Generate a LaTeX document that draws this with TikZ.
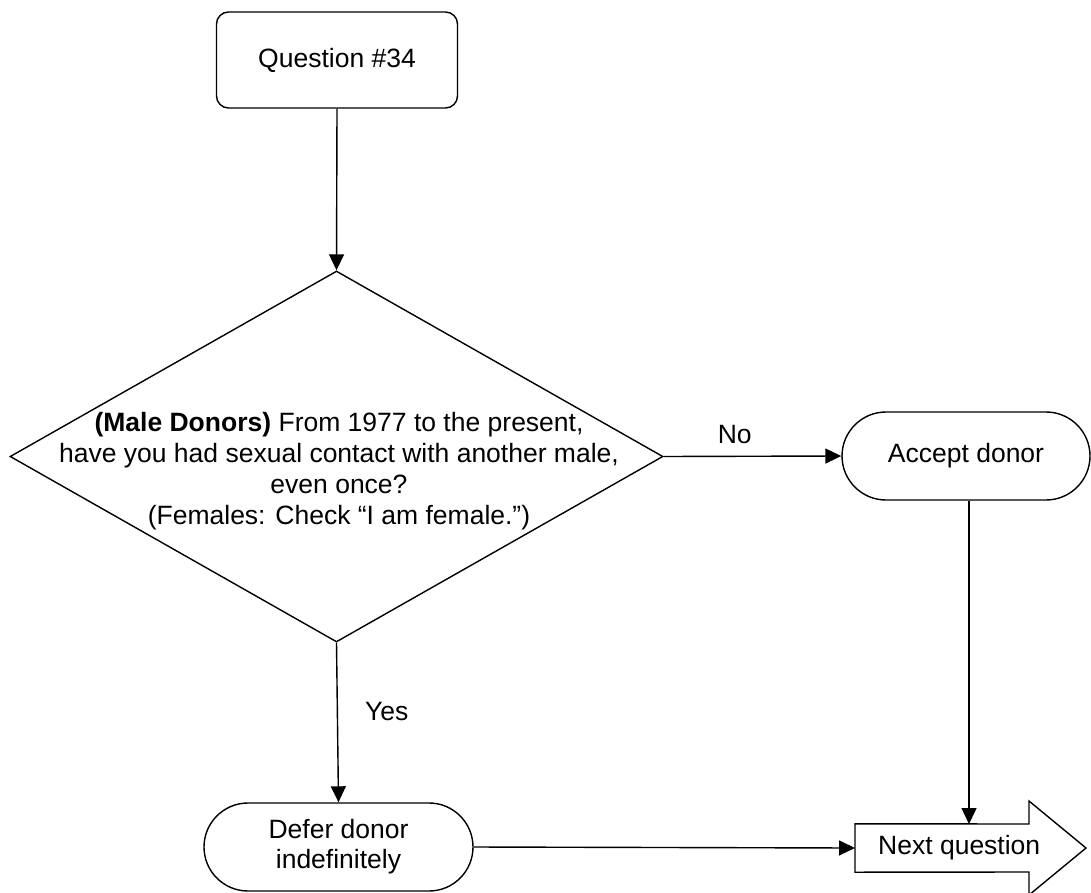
\documentclass[tikz,border=0pt]{standalone}
\usepackage{fontspec}
\setmainfont{Liberation Sans}
\usetikzlibrary{arrows.meta,shapes.geometric}
\begin{document}
\begin{tikzpicture}[x=1pt,y=-1pt,
  every node/.style={font=\fontsize{26.5}{31}\selectfont},
  ln/.style={line width=1.4pt},
  conn/.style={ln,-{Triangle[length=16pt,width=15pt]}},
  qbox/.style={draw,ln,rounded corners=12pt,minimum width=241pt,minimum height=96pt,inner sep=0pt},
  term/.style={draw,ln,rounded corners=44pt,minimum height=88pt,inner sep=0pt,align=center},
  decis/.style={draw,ln,diamond,minimum width=653pt,minimum height=371pt,inner sep=0pt},
  lbl/.style={inner sep=0pt}]
\useasboundingbox (0,0) rectangle (1091,893);
\node[qbox] (q) at (337,60) {Question \#34};
\node[decis] (d) at (336.5,456.5) {};
\node[lbl,align=center] (dt) at (339,471) {\textbf{(Male Donors)} From 1977 to the present,\\have you had sexual contact with another male,\\even once?\\(Females: Check “I am female.”)};
\node[term,minimum width=248pt] (acc) at (966,456) {Accept donor};
\node[term,minimum width=269pt] (def) at (338.5,847) {Defer donor\\[-1pt]indefinitely};
\node[anchor=west,inner xsep=23pt,inner ysep=0pt,minimum height=48pt] (nq) at (855,848) {Next question};
\draw[ln] (nq.north west) -- (1029,824) -- (1029,801) -- (1086,848) -- (1029,895) -- (1029,872) -- (nq.south west) -- cycle;
\coordinate (nqn) at (969,824);
\draw[conn] (q.south) -- (d.north);
\draw[conn] (d.east) -- (acc.west) node[lbl,pos=0.40,above=12pt] (no) {No};
\draw[conn] (d.south) -- (def.north) node[lbl,pos=0.43,right=27pt] (yes) {Yes};
\draw[conn] (acc.south -| nqn) -- (nqn);
\draw[conn] (def.east) -- (nq.west);
\end{tikzpicture}
\end{document}
